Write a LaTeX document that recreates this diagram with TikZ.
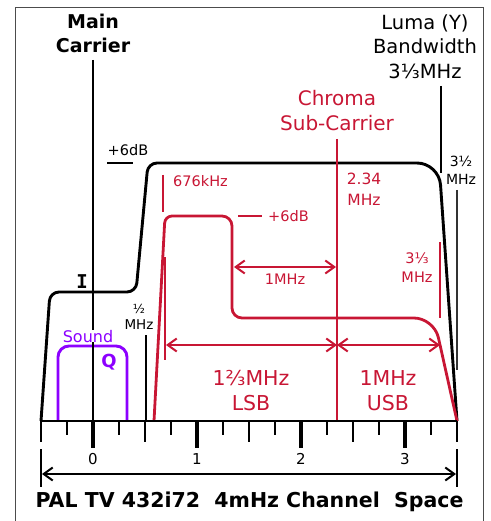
\documentclass[tikz,border=0pt]{standalone}
\usepackage{fontspec}
\setmainfont{DejaVu Sans}
\newfontfamily\monob{DejaVu Sans Mono}
\usetikzlibrary{arrows.meta}
\definecolor{chromared}{RGB}{200,22,52}
\definecolor{soundpurple}{RGB}{140,0,255}
\newcommand{\fs}[1]{\fontsize{#1}{#1}\selectfont}
\begin{document}
\begin{tikzpicture}[x=1pt,y=-1pt,
  lumaline/.style={black,line width=2.9pt,line join=round},
  redline/.style={chromared,line width=2.8pt,line join=round},
  thinred/.style={chromared,line width=2pt},
  thinblack/.style={black,line width=1.8pt},
  dimarrow/.style={line width=2pt,{Straight Barb[length=9pt,width=13pt]}-{Straight Barb[length=9pt,width=13pt]}},
  txt/.style={inner sep=0pt,anchor=base},
  btxt/.style={txt,font=\fs{19}\bfseries},
  rtxt/.style={txt,text=chromared},
]
\useasboundingbox (0,0) rectangle (490,521);
% frame
\draw[gray!60!black,line width=1pt] (15,521) -- (15,8) -- (483,8) -- (483,521);

% axis ticks
\foreach \i in {0,...,16}{
  \pgfmathtruncatemacro{\m}{mod(\i,4)}
  \pgfmathsetmacro{\xx}{41+26*\i}
  \ifnum\m=2
    \draw[black,line width=3.2pt] (\xx,421) -- (\xx,448);
  \else\ifnum\m=0
    \draw[black,line width=1.6pt] (\xx,421) -- (\xx,442);
  \else
    \draw[black,line width=1.6pt] (\xx,421) -- (\xx,435);
  \fi\fi
}
% axis numbers
\foreach \n/\xx in {0/93,1/197,2/301,3/405}
  \node[txt,font=\fs{15}] (num\n) at (\xx,464) {\n};

% sound box
\draw[soundpurple,line width=2.9pt,rounded corners=11pt] (58,421) -- (58,346) -- (127,346) -- (127,421);

% main carrier line
\draw[black,line width=2.9pt] (93,60) -- (93,421);
\node[txt,font=\fs{16},text=soundpurple,fill=white,inner xsep=0pt] (snd) at (88,342) {Sound};
\node[txt,font=\fs{18}\bfseries,text=soundpurple] (q) at (109,367) {Q};

% luma outline
\draw[lumaline,rounded corners=9pt] (41,421) -- (50,292) -- (136,292) -- (148,163) [rounded corners=22pt] -- (439,163) -- (457,421);

% chroma shape
\draw[redline,rounded corners=7pt] (154,421) -- (165,216) [rounded corners=10pt] -- (232,216) -- (232,318) [rounded corners=20pt] -- (434,318) -- (457,421);

% chroma carrier line
\draw[redline] (337,139) -- (337,421);

% axis baseline
\draw[black,line width=2.9pt] (41,421) -- (457,421);

% labels top
\node[btxt] (main1) at (93,29) {Main};
\node[btxt] (main2) at (93,53) {Carrier};
\node[txt,font=\fs{19.5}] (luma1) at (425,30) {Luma (Y)};
\node[txt,font=\fs{19.5}] (luma2) at (425,54) {Bandwidth};
\node[txt,font=\fs{19.5}] (luma3) at (425,79) {3⅓MHz};
\draw[thinblack,line width=2.2pt] (441,86) -- (441,173);
\node[rtxt,font=\fs{20}] (chr1) at (337,106) {Chroma};
\node[rtxt,font=\fs{20}] (chr2) at (337,131) {Sub-Carrier};

% black +6dB
\node[txt,font=\fs{14.5}] (db1) at (128,156) {+6dB};
\draw[thinblack] (107,163) -- (133,163);
% I
\node[txt,font=\fs{19}\monob\bfseries] (ilab) at (82,288) {I};
% 1/2 MHz
\node[txt,font=\fs{12.5}] (half1) at (139,313) {½};
\node[txt,font=\fs{13.5}] (half2) at (139,329) {MHz};
\draw[thinblack] (146,335) -- (146,421);
% 3 1/2 MHz
\node[txt,font=\fs{14}] (tq1) at (461,167) {3½};
\node[txt,font=\fs{14}] (tq2) at (461,185) {MHz};
\draw[black!80,line width=1.8pt] (457,190) -- (457,370);

% red labels
\draw[thinred] (163,175) -- (163,212);
\node[rtxt,font=\fs{14.5},anchor=base west] (k676) at (173,187) {676kHz};
\draw[thinred] (238,216) -- (262,216);
\node[rtxt,font=\fs{14.5},anchor=base west] (db2) at (268,221) {+6dB};
\coordinate (m1a) at (234,267);
\coordinate (m1b) at (336,267);
\draw[dimarrow,chromared] (m1a) -- (m1b);
\node[rtxt,font=\fs{14.5}] (m1) at (285,284) {1MHz};
\node[rtxt,font=\fs{15.5}] (f1) at (364,185) {2.34};
\node[rtxt,font=\fs{15.5}] (f2) at (364,205) {MHz};
\node[rtxt,font=\fs{14.5}] (t1) at (417,263) {3⅓};
\node[rtxt,font=\fs{14.5}] (t2) at (417,282) {MHz};
\draw[thinred] (440,242) -- (440,318);

% LSB / USB
\draw[thinred,line width=2.2pt] (165,257) -- (165,360);
\coordinate (lsbL) at (166,345);
\coordinate (mid) at (337,345);
\coordinate (usbR) at (440,345);
\draw[dimarrow,chromared] (lsbL) -- (mid);
\draw[dimarrow,chromared] (mid) -- (usbR);
\node[rtxt,font=\fs{20.5}] (lsb1) at (251,385) {1⅔MHz};
\node[rtxt,font=\fs{20.5}] (lsb2) at (251,410) {LSB};
\node[rtxt,font=\fs{20.5}] (usb1) at (388,385) {1MHz};
\node[rtxt,font=\fs{20.5}] (usb2) at (388,410) {USB};

% channel dimension
\draw[thinblack,line width=2pt] (41,449) -- (41,487);
\draw[thinblack,line width=2pt] (457,449) -- (457,487);
\coordinate (chL) at (42,474);
\coordinate (chR) at (456,474);
\draw[dimarrow,black] (chL) -- (chR);
\node[btxt,font=\fs{20.5}\bfseries] (title) at (249.5,507) {PAL TV 432i72\ \ 4mHz Channel\ \ Space};
\end{tikzpicture}
\end{document}
